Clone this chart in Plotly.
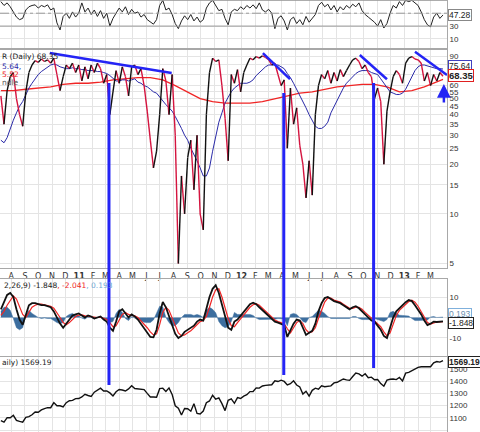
import pandas as pd
import plotly.graph_objects as go
from plotly.subplots import make_subplots

# Weekly readings (Fridays), Jul 2010 - Mar 2013
WEEK_START = "2010-07-09"

# top panel oscillator
rsi_values = [
    68, 62, 66, 60, 52, 44, 40, 42, 55, 60,
    62, 63, 58, 62, 60, 63, 55, 58, 35, 24,
    45, 50, 42, 52, 44, 50, 66, 52, 58, 48,
    55, 45, 54, 42, 50, 30, 42, 50, 58, 52,
    60, 48, 56, 50, 52, 44, 48, 40, 36, 33,
    40, 62, 70, 55, 58, 48, 34, 26, 38, 46,
    40, 48, 38, 44, 36, 40, 58, 66, 70, 62,
    54, 56, 42, 32, 52, 56, 54, 60, 56, 62,
    58, 63, 57, 66, 55, 52, 56, 50, 26, 42,
    46, 38, 24, 40, 44, 34, 40, 32, 45, 36,
    42, 48, 62, 67, 60, 64, 55, 62, 52, 60,
    55, 62, 58, 64, 60, 66, 54, 48, 44, 40,
    36, 30, 40, 27, 34, 50, 62, 58, 68, 62,
    70, 68, 70, 66, 62, 52, 40, 32, 29, 44,
    50, 42, 47.28,
]

# % of stocks above 50-day average (main panel, log scale)
pct_above = [
    52, 35, 56, 68, 72, 50, 40, 34, 55, 72,
    80, 85, 83, 87, 84, 86, 82, 88, 70, 56,
    68, 80, 76, 82, 72, 80, 64, 78, 66, 80,
    72, 82, 76, 62, 70, 40, 55, 74, 62, 78,
    68, 52, 78, 80, 70, 76, 60, 42, 28, 19,
    24, 40, 76, 64, 40, 70, 30, 5, 17, 10,
    22, 28, 14, 30, 10, 8, 40, 72, 88, 84,
    86, 60, 38, 21, 70, 62, 75, 55, 72, 80,
    88, 86, 90, 88, 91, 89, 86, 80, 82, 70,
    60, 65, 25, 58, 35, 44, 26, 20, 12.5, 21,
    13, 40, 60, 70, 66, 74, 62, 72, 64, 75,
    68, 74, 80, 86, 88, 84, 76, 80, 72, 68,
    50, 58, 48, 20, 42, 55, 68, 74, 70, 62,
    82, 88, 90, 87, 86, 82, 64, 72, 60, 70,
    64, 72, 68.35,
]

pct_ma_fast = [
    28, 27, 29, 33, 37, 41, 45, 48, 53, 58,
    62, 66, 70, 73, 75, 78, 80, 81, 80, 78,
    77, 76, 76, 77, 76, 76, 75, 75, 74, 74,
    74, 73, 73, 72, 71, 69, 66, 64, 64, 65,
    65, 64, 65, 66, 63, 62, 60, 59, 57, 55,
    54, 51, 48, 46, 44, 42, 39, 36, 33, 30,
    28, 25, 23, 21, 19, 17, 17, 19, 24, 30,
    36, 41, 47, 51, 55, 58, 60, 62, 62, 62,
    63, 65, 69, 72, 75, 78, 80, 80, 80, 80,
    78, 76, 71, 67, 62, 57, 53, 48, 44, 40,
    37, 34, 33, 33, 34, 36, 41, 45, 49, 54,
    58, 62, 65, 68, 71, 73, 74, 74, 74, 72,
    71, 70, 66, 62, 58, 55, 54, 53, 53, 54,
    57, 62, 68, 74, 78, 80, 80, 79, 78, 77,
    76, 76, 75.64,
]

# slow average, read every 4th week plus the last week
pct_ma_slow = [
    56, 56, 57, 58, 59, 61, 62, 62, 63, 65,
    66, 67, 67, 65, 60, 55, 50, 48, 47, 47,
    47, 48, 50, 52, 54, 55, 57, 59, 60, 61,
    61, 59, 55, 56, 59, 63, 65.52,
]

macd_line = [
    4, 8, 11, 12, 10, 4, -1, -3.5, 1, 6,
    7, 7, 6.5, 6, 6, 5.5, 5, 3, 0, -3,
    -5, -3, -1, 1, 1.5, 2, 1, 0, 1, 0.5,
    -0.5, 0, 0.5, -1, -2, -5, -6.5, -2, 3, 4,
    2, 0, 1.5, 0.5, -1, -3, -5.5, -7.5, -9.5, -9.7,
    -6, 2, 7.6, 5, 1, -4, -8, -10, -9, -7,
    -6, -5, -4, -2, -1, -1.5, 4, 10, 14, 15.8,
    12, 6, 0, -5, -6, -2, -1, 1, 3, 5,
    6.5, 7.2, 6.5, 5, 3.5, 2, 0.5, -1, -2, -2.5,
    -3, -3.7, -9.5, -6, -3, -1, -1.5, -5, -8.5, -7.5,
    -6.5, -3, 3, 7, 9.5, 10, 9, 8, 7.5, 7,
    6, 5, 4, 5, 5.5, 4.5, 3, 1.5, 0, -1.5,
    -2, -4, -6, -9, -10, -5, 0, 3, 4.6, 6,
    7.5, 8.5, 8, 6, 4, 1.5, -1.5, -3.7, -3, -2,
    -2.2, -1.9, -1.848,
]

macd_signal = [
    1, 3, 6, 8.5, 10.5, 9, 5, 1.5, 0, 2.5,
    5, 6, 6.5, 6.5, 6.2, 6, 5.5, 4.5, 2.5, 0,
    -2.5, -3.5, -2.5, -1, 0.5, 1.2, 1.3, 0.8, 0.6, 0.5,
    0.2, 0, 0.2, -0.3, -1, -2.5, -4.5, -4, -1, 1.5,
    2.5, 1.5, 1, 0.8, 0, -1.5, -3.2, -5, -7, -8.5,
    -8, -3.5, 2.5, 5, 3.5, 0, -4, -7.5, -9, -8.5,
    -7.5, -6.5, -5, -3.5, -2, -1.5, 0.5, 5, 10, 13.5,
    14, 10, 5, -0.5, -4, -4.5, -2.5, -0.5, 1.5, 3.5,
    5, 6.2, 6.8, 6, 4.5, 3, 1.5, 0, -1.2, -2,
    -2.5, -3, -5.5, -7.5, -5, -2.5, -1.5, -3, -6, -7.5,
    -7, -5, -0.5, 4, 7.5, 9.5, 9.5, 8.5, 8, 7.5,
    6.5, 5.5, 4.5, 4.5, 5, 5, 4, 2.5, 1, -0.5,
    -1.5, -3, -4.5, -7, -9, -7.5, -3, 1, 3.5, 5,
    6.5, 7.8, 8.5, 7.5, 5.5, 3, 0, -2.5, -3.2, -2.5,
    -2.2, -2.1, -2.041,
]

macd_hist = [
    3, 5, 5, 3.5, -0.5, -5, -6, -5, 1, 3.5,
    2, 1, 0, -0.5, -0.2, -0.5, -0.5, -1.5, -2.5, -3,
    -2.5, 0.5, 1.5, 2, 1, 0.8, -0.3, -0.8, 0.4, 0,
    -0.7, 0, 0.3, -0.7, -1, -2.5, -2, 2, 4, 2.5,
    -0.5, -1.5, 0.5, -0.3, -1, -1.5, -2.3, -2.5, -2.5, -1.2,
    2, 5.5, 5.1, 0, -2.5, -4, -4, -2.5, 0, 1.5,
    1.5, 1.5, 1, 1.5, 1, 0, 3.5, 5, 4, 2.3,
    -2, -4, -5, -4.5, -2, 2.5, 1.5, 1.5, 1.5, 1.5,
    1.5, 1, -0.3, -1, -1, -1, -1, -1, -0.8, -0.5,
    -0.5, -0.7, -4, 1.5, 2, 1.5, 0, -2, -2.5, 0,
    0.5, 2, 3.5, 3, 2, 0.5, -0.5, -0.5, -0.5, -0.5,
    -0.5, -0.5, -0.5, 0.5, 0.5, -0.5, -1, -1, -1, -1,
    -0.5, -1, -1.5, -2, -1, 2.5, 3, 2, 1.1, 1,
    1, 0.7, -0.5, -1.5, -1.5, -1.5, -1.5, -1.2, 0.2, 0.5,
    0, 0.2, 0.193,
]

spx_close = [
    1077, 1065, 1102, 1101, 1121, 1079, 1071, 1065, 1104, 1110,
    1125, 1148, 1146, 1165, 1176, 1183, 1183, 1225, 1199, 1199,
    1189, 1224, 1240, 1243, 1257, 1258,
    1271, 1293, 1283, 1276, 1310, 1329, 1343, 1320, 1321, 1304,
    1279, 1313, 1332, 1328, 1320, 1337, 1363, 1340, 1338, 1333,
    1331, 1300, 1271, 1271, 1268, 1339, 1343, 1316, 1345, 1292,
    1199, 1178, 1123, 1177, 1174, 1154, 1216, 1136, 1131, 1155,
    1224, 1238, 1285, 1253, 1263, 1216, 1159, 1244, 1255, 1219,
    1265, 1258,
    1278, 1289, 1315, 1316, 1345, 1343, 1361, 1366, 1370, 1371,
    1404, 1397, 1408, 1398, 1370, 1379, 1403, 1369, 1353, 1295,
    1318, 1278, 1325, 1343, 1335, 1362, 1355, 1357, 1362, 1386,
    1391, 1405, 1418, 1411, 1407, 1438, 1466, 1460, 1441, 1461,
    1429, 1433, 1412, 1414, 1380, 1359, 1409, 1416, 1418, 1413,
    1430, 1402,
    1466, 1472, 1486, 1503, 1513, 1518, 1520, 1516, 1518, 1551,
    1561, 1556, 1569.19,
]

month_ticks = pd.date_range("2010-08-01", "2013-03-01", freq="MS")
month_text = [
    "A", "S", "O", "N", "D",
    "<b>11</b>", "F", "M", "A", "M", "J", "J", "A", "S", "O", "N", "D",
    "<b>12</b>", "F", "M", "A", "M", "J", "J", "A", "S", "O", "N", "D",
    "<b>13</b>", "F", "M",
]

# hand-drawn trendlines on the main panel
trend_dates = [
    ["2010-10-27", "2011-07-28"],
    ["2012-02-18", "2012-04-19"],
    ["2012-09-23", "2012-11-23"],
    ["2013-01-25", "2013-04-07"],
]
trend_values = [[94.6, 71.6], [94.4, 65.6], [92, 65.6], [96.1, 69.5]]

# hand-drawn vertical markers (date, top, bottom in page fraction)
marker_dates = ["2011-03-09", "2012-04-05", "2012-10-24"]
marker_top = [0.808, 0.785, 0.808]
marker_bottom = [0.109, 0.132, 0.148]

dates = pd.date_range(WEEK_START, periods=len(spx_close), freq="W-FRI")
slow_dates = list(dates[::4]) + [dates[-1]]

X_RANGE = ["2010-07-07", "2013-04-07"]
FONT = "DejaVu Sans"
NUM_FONT = "Liberation Sans"
GRID = "#e4e4e4"
FRAME = "#a8a8a8"
BLUE_MARK = "#2424f5"
H = 432

fig = make_subplots(rows=4, cols=1, shared_xaxes=True, vertical_spacing=0.01)

# top oscillator
fig.add_trace(go.Scatter(x=dates, y=rsi_values, mode="lines",
                         line={"color": "#222", "width": 1}), row=1, col=1)

# main panel: black when rising, crimson when falling
up_x, up_y, down_x, down_y = [], [], [], []
for k in range(1, len(pct_above)):
    seg_x = [dates[k - 1], dates[k], None]
    seg_y = [pct_above[k - 1], pct_above[k], None]
    if pct_above[k] >= pct_above[k - 1]:
        up_x += seg_x
        up_y += seg_y
    else:
        down_x += seg_x
        down_y += seg_y

fig.add_trace(go.Scatter(x=slow_dates, y=pct_ma_slow, mode="lines",
                         line={"color": "#f02525", "width": 1.3}), row=2, col=1)
fig.add_trace(go.Scatter(x=dates, y=pct_ma_fast, mode="lines",
                         line={"color": "#2a2aa8", "width": 1}), row=2, col=1)
fig.add_trace(go.Scatter(x=down_x, y=down_y, mode="lines",
                         line={"color": "#d4143f", "width": 1.4}), row=2, col=1)
fig.add_trace(go.Scatter(x=up_x, y=up_y, mode="lines",
                         line={"color": "#111", "width": 1.4}), row=2, col=1)

for t_dates, t_vals in zip(trend_dates, trend_values):
    fig.add_trace(go.Scatter(x=t_dates, y=t_vals, mode="lines",
                             line={"color": BLUE_MARK, "width": 2.5}), row=2, col=1)

# MACD panel
fig.add_trace(go.Scatter(x=dates, y=macd_hist, mode="lines", fill="tozeroy",
                         fillcolor="#3c6e9f", line={"color": "#3c6e9f", "width": 0.5}),
              row=3, col=1)
fig.add_trace(go.Scatter(x=dates, y=macd_signal, mode="lines",
                         line={"color": "#f02525", "width": 1.2}), row=3, col=1)
fig.add_trace(go.Scatter(x=dates, y=macd_line, mode="lines",
                         line={"color": "#111", "width": 1.8}), row=3, col=1)

# S&P 500 panel
fig.add_trace(go.Scatter(x=dates, y=spx_close, mode="lines",
                         line={"color": "#111", "width": 1.4}), row=4, col=1)

# panel layout (pixel rows turned into page fractions)
domains = {
    "yaxis": [1 - 48 / H, 1.0],
    "yaxis2": [1 - 268 / H, 1 - 50 / H],
    "yaxis3": [1 - 356 / H, 1 - 279 / H],
    "yaxis4": [0.0, 1 - 357 / H],
}
tick_font = {"family": NUM_FONT, "size": 8, "color": "#333"}
axis_common = dict(side="right", showgrid=True, gridcolor=GRID, gridwidth=1,
                   zeroline=False, showline=True, mirror=True, linecolor=FRAME,
                   linewidth=1, ticks="", ticklen=0, tickfont=tick_font)

fig.update_layout(
    yaxis=dict(domain=domains["yaxis"], range=[-4, 70.5], tickvals=[10, 30, 50, 70],
               ticktext=["10", "30", "", "70"], **axis_common),
    yaxis2=dict(domain=domains["yaxis2"], type="log", range=[0.672, 1.994],
                tickvals=[5, 10, 15, 20, 25, 30, 35, 40, 45, 50, 55, 60, 70, 80, 90],
                ticktext=["5", "10", "15", "20", "25", "30", "35", "40", "45", "50",
                          "55", "60", "", "", "90"], **axis_common),
    yaxis3=dict(domain=domains["yaxis3"], range=[-18.8, 18.8], tickvals=[-10, 0, 10],
                ticktext=["-10", "", "10"], **axis_common),
    yaxis4=dict(domain=domains["yaxis4"], range=[984, 1598],
                tickvals=[1000, 1100, 1200, 1300, 1400, 1500], **axis_common),
)

for name in ["xaxis", "xaxis2", "xaxis3", "xaxis4"]:
    fig.layout[name].update(
        range=X_RANGE, tickvals=month_ticks, ticktext=month_text,
        showgrid=True, gridcolor=GRID, gridwidth=1, zeroline=False,
        showline=True, mirror=True, linecolor=FRAME, ticks="", ticklen=0,
        showticklabels=(name == "xaxis2"),
        tickfont={"family": FONT, "size": 8, "color": "#333"}, tickangle=0,
    )

# reference lines on the top panel
fig.add_hline(y=70, line={"color": "#9a9a9a", "width": 1}, row=1, col=1)
fig.add_hline(y=30, line={"color": "#9a9a9a", "width": 1}, row=1, col=1)
fig.add_hline(y=50, line={"color": "#9a9a9a", "width": 1, "dash": "dashdot"}, row=1, col=1)

# vertical markers spanning the panels
for m_date, m_top, m_bot in zip(marker_dates, marker_top, marker_bottom):
    fig.add_shape(type="line", xref="x2", yref="paper", x0=m_date, x1=m_date,
                  y0=m_bot, y1=m_top, line={"color": BLUE_MARK, "width": 3})

# arrow under the last reading
fig.add_annotation(x="2013-03-31", xref="x2", y=1 - 84 / H, yref="paper",
                   ax=0, ay=20, showarrow=True, arrowhead=2, arrowsize=1.1,
                   arrowwidth=2.5, arrowcolor=BLUE_MARK, text="")


def label(text, y_px, color="#222", x=0.0):
    fig.add_annotation(x=x, xref="paper", y=1 - y_px / H, yref="paper",
                       xanchor="left", yanchor="middle", showarrow=False,
                       text=text, font={"family": FONT, "size": 7.5, "color": color})


label("R (Daily) 68.35", 57)
label("5.64,", 66, color="#2a2aa8")
label("5.52", 74, color="#f02525")
label("ndle", 82, color="#555")
label("2,26,9) -1.848<span style='color:#f02525'>, -2.041</span>"
      "<span style='color:#6fa8d6'>, 0.193</span>", 285, x=0.004)
label("aily) 1569.19", 362)


def value_box(text, y_px, border, color="#222", size=8.5):
    fig.add_annotation(x=1.002, xref="paper", y=1 - y_px / H, yref="paper",
                       xanchor="left", yanchor="middle", showarrow=False, text=text,
                       font={"family": NUM_FONT, "size": size, "color": color},
                       bgcolor="white", bordercolor=border, borderwidth=1, borderpad=0)


value_box("47.28", 15, "#888")
value_box("75.64", 66, "#4040c0")
value_box("<b>68.35</b>", 75, "#e02020", size=9.5)
value_box("0.193", 314, "#7fb0dc", color="#6a8fb0")
value_box("-1.848", 323, "#222")
value_box("<b>1569.19</b>", 362, "#222")

fig.update_layout(
    width=480, height=432, showlegend=False,
    margin={"l": 0, "r": 33, "t": 0, "b": 0},
    paper_bgcolor="white", plot_bgcolor="white",
    font={"family": FONT, "size": 9, "color": "#333"},
)

# the page body has a default 8px margin; remove it so the chart sits at the corner
fig.write_html("out.html", config={"displayModeBar": False},
               post_script="document.body.style.margin='0px';")
